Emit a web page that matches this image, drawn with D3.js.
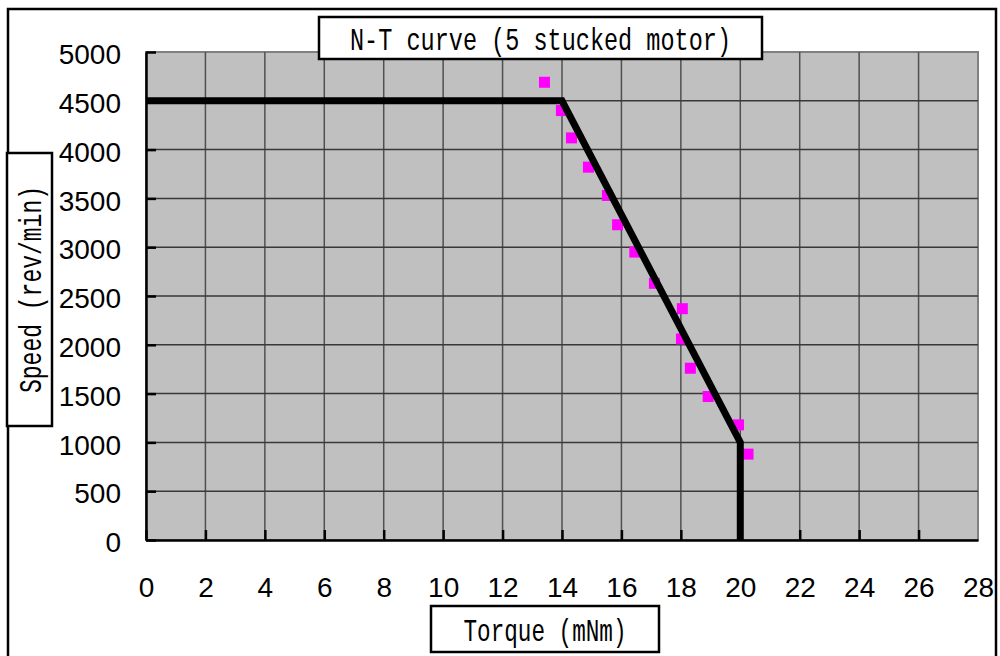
<!DOCTYPE html>
<html>
<head>
<meta charset="utf-8">
<script src="https://cdn.jsdelivr.net/npm/d3@7/dist/d3.min.js"></script>
<style>
  body { margin: 0; background: white; }
  svg { display: block; }
</style>
</head>
<body>
<script>
// N-T characteristic: rated curve plus measured points
var curveTorque = [0, 14, 20, 20];
var curveSpeed  = [4500, 4500, 1000, 0];

var measTorque = [13.41, 13.98, 14.32, 14.89, 15.53, 15.87, 16.45, 17.11, 18.05, 18.02, 18.32, 18.92, 19.94, 20.26];
var measSpeed  = [4690, 4400, 4120, 3820, 3530, 3230, 2950, 2630, 2370, 2060, 1760, 1470, 1180, 880];

var xTicks = [0, 2, 4, 6, 8, 10, 12, 14, 16, 18, 20, 22, 24, 26, 28];
var yTicks = [0, 500, 1000, 1500, 2000, 2500, 3000, 3500, 4000, 4500, 5000];

var titleText = "N-T curve (5 stucked motor)";
var xTitle = "Torque (mNm)";
var yTitle = "Speed (rev/min)";

var W = 1000, H = 656;
var plot = {left: 146, right: 978, top: 52, bottom: 540};

var svg = d3.select("body").append("svg")
    .attr("width", W)
    .attr("height", H);

// outer frame
svg.append("rect")
    .attr("x", 8).attr("y", 9)
    .attr("width", 988).attr("height", 720)
    .attr("fill", "white")
    .attr("stroke", "black")
    .attr("stroke-width", 2.5);

var x = d3.scaleLinear().domain([0, 28]).range([plot.left, plot.right]);
var y = d3.scaleLinear().domain([0, 5000]).range([plot.bottom, plot.top]);

// plot background
svg.append("rect")
    .attr("x", plot.left).attr("y", plot.top)
    .attr("width", plot.right - plot.left)
    .attr("height", plot.bottom - plot.top)
    .attr("fill", "#c0c0c0")
    .attr("stroke", "#808080")
    .attr("stroke-width", 2);

// grid
svg.append("g").selectAll("line")
    .data(xTicks.slice(1, -1))
  .enter().append("line")
    .attr("x1", function(d) { return x(d); })
    .attr("x2", function(d) { return x(d); })
    .attr("y1", plot.top).attr("y2", plot.bottom)
    .attr("stroke", "#505050")
    .attr("stroke-width", 1.5);

svg.append("g").selectAll("line")
    .data(yTicks.slice(1, -1))
  .enter().append("line")
    .attr("y1", function(d) { return y(d); })
    .attr("y2", function(d) { return y(d); })
    .attr("x1", plot.left).attr("x2", plot.right)
    .attr("stroke", "#383838")
    .attr("stroke-width", 1.5);

// axes with inward ticks
var xAxis = svg.append("g")
    .attr("transform", "translate(0," + plot.bottom + ")")
    .call(d3.axisBottom(x).tickValues(xTicks).tickFormat(d3.format("d"))
      .tickSize(-10).tickSizeOuter(0).tickPadding(37));

var yAxis = svg.append("g")
    .attr("transform", "translate(" + plot.left + ",0)")
    .call(d3.axisLeft(y).tickValues(yTicks).tickFormat(d3.format("d"))
      .tickSize(-10).tickSizeOuter(0).tickPadding(25));

[xAxis, yAxis].forEach(function(a) {
  a.select(".domain").attr("stroke", "black").attr("stroke-width", 2.5);
  a.selectAll(".tick line").attr("stroke", "black").attr("stroke-width", 2.5);
  a.selectAll(".tick text")
      .attr("fill", "black")
      .style("font-family", "'Liberation Sans', Arial, sans-serif")
      .style("font-size", "28px");
});
yAxis.selectAll(".tick text").attr("dy", "0.42em");
// hide the ticks that sit on the frame edges
xAxis.selectAll(".tick line").filter(function(d) { return d == 28; }).remove();
yAxis.selectAll(".tick line").filter(function(d) { return d == 5000; }).attr("x2", 10);

// measured points
var sq = 11;
svg.append("g").selectAll("rect")
    .data(d3.range(measTorque.length))
  .enter().append("rect")
    .attr("x", function(i) { return x(measTorque[i]) - sq / 2; })
    .attr("y", function(i) { return y(measSpeed[i]) - sq / 2; })
    .attr("width", sq).attr("height", sq)
    .attr("fill", "#ff00ff");

// rated curve
var line = d3.line()
    .x(function(i) { return x(curveTorque[i]); })
    .y(function(i) { return y(curveSpeed[i]); });

svg.append("path")
    .datum(d3.range(curveTorque.length))
    .attr("d", line)
    .attr("fill", "none")
    .attr("stroke", "black")
    .attr("stroke-width", 7)
    .attr("stroke-linejoin", "miter");

// boxed labels, narrow monospace look
function boxLabel(bx, by, bw, bh, txt, len, rotate) {
  svg.append("rect")
      .attr("x", bx).attr("y", by)
      .attr("width", bw).attr("height", bh)
      .attr("fill", "white")
      .attr("stroke", "black")
      .attr("stroke-width", 2.5);
  var cx = bx + bw / 2, cy = by + bh / 2;
  svg.append("text")
      .attr("transform", "translate(" + cx + "," + cy + ")" + (rotate ? "rotate(-90)" : ""))
      .attr("text-anchor", "middle")
      .attr("dy", "0.37em")
      .attr("textLength", len)
      .attr("lengthAdjust", "spacingAndGlyphs")
      .style("font-family", "'Liberation Mono', 'DejaVu Sans Mono', monospace")
      .style("font-size", "32px")
      .text(txt);
}

boxLabel(319, 17, 443, 42, titleText, 381, false);
boxLabel(7, 153, 45, 273, yTitle, 207, true);
boxLabel(431, 606, 228, 46, xTitle, 163, false);
</script>
</body>
</html>
